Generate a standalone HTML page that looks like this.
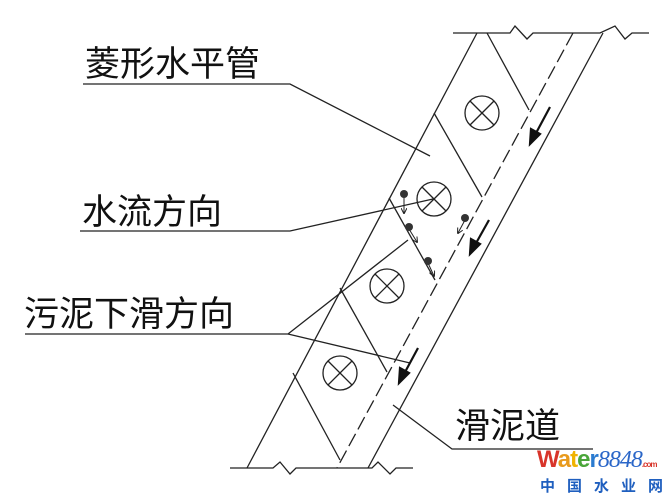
<!DOCTYPE html>
<html><head><meta charset="utf-8"><style>
html,body{margin:0;padding:0;background:#fff;width:667px;height:496px;overflow:hidden}
svg{display:block}
.t{font-family:"Liberation Sans","Noto Sans CJK SC",sans-serif;font-size:35px;fill:#111}
</style></head><body>
<svg width="667" height="496" viewBox="0 0 667 496" xmlns="http://www.w3.org/2000/svg">
<defs>
<marker id="ah" markerWidth="6" markerHeight="6" refX="5" refY="3" orient="auto" markerUnits="userSpaceOnUse">
<path d="M0,0 L6,3 L0,6" fill="none" stroke="#222" stroke-width="1"/></marker>
</defs>
<g stroke="#222" stroke-width="1.3" fill="none">
<polyline points="453,33 510,33 515,26 527,39 533,33 600,33 615,26 625,39 632,33 649,33"/>
<polyline points="230,468 273,468 280,462 290,474 296,468 372,468 378,462 390,474 396,468 413,468"/>
<line x1="477" y1="33" x2="247" y2="468"/>
<line x1="573" y1="33" x2="337" y2="468" stroke-dasharray="14,5"/>
<line x1="603" y1="33" x2="368" y2="468"/>
<line x1="487" y1="33" x2="529" y2="110"/>
<line x1="434" y1="113" x2="482" y2="197"/>
<line x1="389" y1="198" x2="435" y2="280"/>
<line x1="340" y1="288" x2="387" y2="372"/>
<line x1="293" y1="373" x2="340" y2="460"/>
<g>
<circle cx="482" cy="113" r="17"/><line x1="470" y1="101" x2="494" y2="125"/><line x1="494" y1="101" x2="470" y2="125"/>
<circle cx="434" cy="199" r="17"/><line x1="422" y1="187" x2="446" y2="211"/><line x1="446" y1="187" x2="422" y2="211"/>
<circle cx="387" cy="286" r="17"/><line x1="375" y1="274" x2="399" y2="298"/><line x1="399" y1="274" x2="375" y2="298"/>
<circle cx="340" cy="373" r="17"/><line x1="328" y1="361" x2="352" y2="385"/><line x1="352" y1="361" x2="328" y2="385"/>
</g>
<polyline points="83,84 290,84 430,156"/>
<polyline points="80,231 290,231 433,199"/>
<polyline points="25,334 288,334 408,240"/>
<line x1="288" y1="334" x2="410" y2="363"/>
<polyline points="593,449 452,449 393,405"/>
<line x1="404" y1="196" x2="404" y2="213" marker-end="url(#ah)" stroke-width="1"/>
<line x1="409" y1="229" x2="417" y2="242" marker-end="url(#ah)" stroke-width="1"/>
<line x1="428" y1="263" x2="434" y2="276" marker-end="url(#ah)" stroke-width="1"/>
<line x1="465" y1="220" x2="458" y2="233" marker-end="url(#ah)" stroke-width="1"/>
</g>
<g fill="#333">
<circle cx="404" cy="194" r="4"/><circle cx="409" cy="227" r="4"/><circle cx="428" cy="261" r="4"/><circle cx="465" cy="218" r="4"/>
</g>
<g stroke="#111" stroke-width="2.2" fill="#111">
<line x1="550" y1="107" x2="535" y2="135"/><polygon points="530,144 531,129 540,134"/>
<line x1="489" y1="220" x2="475" y2="245"/><polygon points="470,254 471,239 480,244"/>
<line x1="418" y1="348" x2="404" y2="374"/><polygon points="399,383 400,368 409,373"/>
</g>
<text class="t" x="85" y="76">菱形水平管</text>
<text class="t" x="82" y="224">水流方向</text>
<text class="t" x="24" y="326">污泥下滑方向</text>
<text class="t" x="455" y="438">滑泥道</text>
<text x="537" y="467" font-family="Liberation Sans,sans-serif" font-size="24" font-weight="bold" letter-spacing="-1"><tspan fill="#d8342a">W</tspan><tspan fill="#e89a1c">a</tspan><tspan fill="#f0b400">t</tspan><tspan fill="#4aa63a">e</tspan><tspan fill="#2a7bd0">r</tspan><tspan fill="#2a66c8" font-family="Liberation Serif,serif" font-style="italic" font-weight="normal" font-size="24">8848</tspan><tspan fill="#d8342a" font-size="8">.com</tspan></text>
<text x="540" y="491" font-family="Liberation Sans,'Noto Sans CJK SC',sans-serif" font-size="15" font-weight="bold" fill="#1f5fbf" letter-spacing="12">中国水业网</text>
</svg>
</body></html>
